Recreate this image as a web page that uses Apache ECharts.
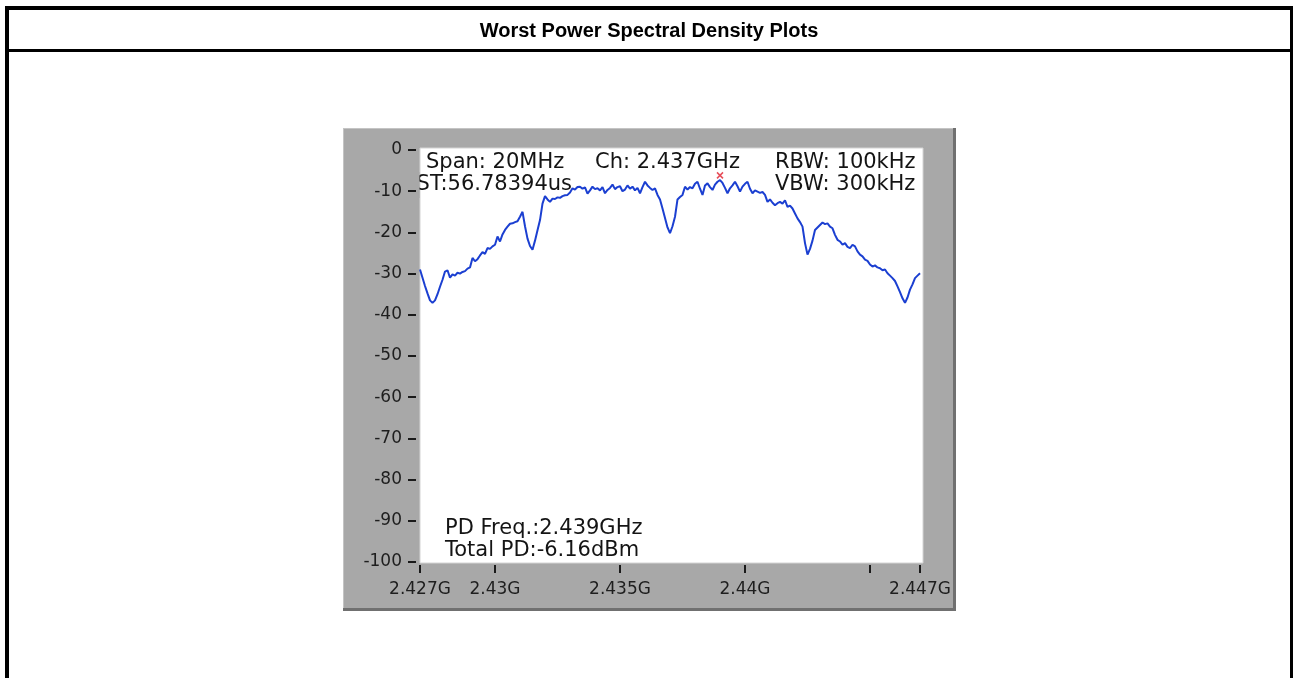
<!DOCTYPE html>
<html><head><meta charset="utf-8">
<script src="https://cdn.jsdelivr.net/npm/echarts@6/dist/echarts.min.js"></script>
<style>html,body{margin:0;padding:0;background:#fff;} #chart{width:1293px;height:678px;}</style>
</head><body><div id="chart"></div>
<script>
const titleText = 'Worst Power Spectral Density Plots';
// sweep definition: 2.427 GHz start, 0.1 MHz step (201 points over 20 MHz span)
const sweepStartGHz = 2.427;
const sweepStepGHz = 0.0001;
const psdDbm = [
-29.0, -31.0, -33.0, -34.8, -36.5, -37.1, -36.5, -35.0, -33.2, -31.5,
-29.5, -29.2, -31.0, -30.2, -30.5, -29.8, -30.0, -29.6, -29.4, -28.8,
-28.5, -26.2, -27.0, -26.5, -25.6, -24.8, -25.2, -23.8, -24.0, -23.4,
-23.0, -21.0, -22.2, -20.5, -19.4, -18.6, -17.9, -17.8, -17.5, -17.3,
-16.2, -15.0, -18.5, -21.5, -23.3, -24.2, -22.0, -19.5, -17.0, -13.0,
-11.2, -12.0, -12.6, -11.8, -11.9, -11.5, -11.6, -11.2, -11.0, -10.9,
-10.3, -9.3, -9.6, -9.0, -8.9, -9.4, -9.1, -10.6, -9.8, -8.9,
-9.5, -9.3, -9.8, -9.0, -10.5, -9.7, -9.2, -8.4, -9.5, -9.0,
-8.8, -10.0, -9.6, -8.6, -9.4, -8.9, -9.8, -9.2, -10.5, -9.0,
-7.7, -8.6, -9.2, -9.7, -9.3, -10.9, -12.0, -14.2, -16.5, -18.8,
-20.2, -18.5, -16.2, -12.0, -11.4, -10.9, -8.9, -9.6, -9.0, -9.3,
-8.2, -7.7, -9.4, -10.9, -8.6, -8.1, -9.0, -9.7, -8.4, -7.7,
-7.3, -8.0, -9.2, -10.5, -9.3, -8.6, -7.7, -8.8, -10.1, -8.9,
-8.2, -7.7, -9.4, -10.5, -9.8, -10.1, -10.4, -10.2, -10.9, -12.6,
-12.0, -12.8, -13.4, -12.9, -12.6, -13.0, -12.2, -13.8, -13.5, -14.2,
-15.4, -16.6, -17.5, -18.6, -22.6, -25.4, -24.0, -22.0, -19.4, -18.8,
-18.2, -17.6, -18.0, -17.8, -18.6, -19.0, -20.6, -21.8, -22.2, -23.0,
-22.6, -23.5, -23.8, -23.0, -23.4, -24.6, -25.4, -25.8, -26.6, -26.9,
-27.8, -28.3, -28.0, -28.5, -28.7, -29.2, -29.0, -29.9, -30.5, -31.1,
-31.8, -33.1, -34.5, -36.0, -37.1, -35.8, -33.9, -32.6, -31.1, -30.5, -29.9
];
const xTickValues = [2.427, 2.43, 2.435, 2.44, 2.445, 2.447];
const xLabelValues = [2.427, 2.43, 2.435, 2.44, 2.447];
const xLabelTexts = ['2.427G', '2.43G', '2.435G', '2.44G', '2.447G'];
const yTickLabels = ['0', '-10', '-20', '-30', '-40', '-50', '-60', '-70', '-80', '-90', '-100'];
const peakPoint = [2.439, -6.16];
const infoTopLeft = ['Span: 20MHz', 'ST:56.78394us'];
const infoTopMid = ['Ch: 2.437GHz'];
const infoTopRight = ['RBW: 100kHz', 'VBW: 300kHz'];
const infoBottom = ['PD Freq.:2.439GHz', 'Total PD:-6.16dBm'];

const seriesData = psdDbm.map((v, i) => [sweepStartGHz + i * sweepStepGHz, v]);

const panelGray = '#a8a8a8';
const txtFont = '21px "DejaVu Sans"';
const chart = echarts.init(document.getElementById('chart'), null, {renderer: 'canvas'});
chart.setOption({
  animation: false,
  backgroundColor: '#ffffff',
  grid: {left: 420, top: 150, width: 500, height: 412, containLabel: false, outerBoundsMode: 'none'},
  xAxis: {
    type: 'value', min: 2.427, max: 2.447, z: 10, position: 'bottom',
    axisLine: {show: false},
    splitLine: {show: false},
    axisTick: {show: false},
    axisLabel: {
      customValues: xLabelValues, margin: 19,
      color: '#1e1e1e', fontFamily: 'DejaVu Sans', fontSize: 17,
      formatter: function (v) {
        for (let i = 0; i < xLabelValues.length; i++) {
          if (Math.abs(xLabelValues[i] - v) < 1e-7) return xLabelTexts[i];
        }
        return '';
      }
    }
  },
  yAxis: {
    type: 'value', min: -100, max: 0, interval: 10, z: 10, offset: 4,
    axisLine: {show: false},
    splitLine: {show: false},
    axisTick: {show: true, length: 8, lineStyle: {color: '#1a1a1a', width: 2}},
    axisLabel: {
      margin: 14, color: '#1e1e1e', fontFamily: 'DejaVu Sans', fontSize: 17,
      formatter: function (v) { return yTickLabels[Math.round(-v / 10)]; }
    }
  },
  series: [
    {
      type: 'line', data: seriesData, showSymbol: false, z: 8, clip: true,
      lineStyle: {color: '#1b3fd1', width: 2}
    },
    {
      type: 'scatter', data: [peakPoint], z: 9,
      symbol: 'path://M0,0L10,10M10,0L0,10', symbolSize: 6,
      itemStyle: {color: 'none', borderColor: '#e02030', borderWidth: 1.5}
    },
    {
      type: 'custom', z: 10, silent: true, clip: false,
      data: xTickValues.map(v => [v, -100]),
      renderItem: function (params, api) {
        const p = api.coord([api.value(0), api.value(1)]);
        return {
          type: 'line',
          shape: {x1: p[0], y1: p[1] + 3, x2: p[0], y2: p[1] + 11},
          style: {stroke: '#1a1a1a', lineWidth: 2}
        };
      }
    }
  ],
  graphic: [
    {type: 'rect', z: 1, shape: {x: 5, y: 6, width: 1288, height: 4}, style: {fill: '#000'}},
    {type: 'rect', z: 1, shape: {x: 5, y: 6, width: 4, height: 672}, style: {fill: '#000'}},
    {type: 'rect', z: 1, shape: {x: 1290, y: 6, width: 3, height: 672}, style: {fill: '#000'}},
    {type: 'rect', z: 1, shape: {x: 5, y: 49, width: 1288, height: 3}, style: {fill: '#000'}},
    {type: 'text', z: 1, x: 649, y: 31, style: {text: titleText, font: 'bold 20px "Liberation Sans"', fill: '#000', textAlign: 'center', textVerticalAlign: 'middle'}},
    {type: 'rect', z: 1, shape: {x: 343, y: 128, width: 613, height: 483}, style: {fill: panelGray}},
    {type: 'rect', z: 1, shape: {x: 343, y: 128, width: 613, height: 1}, style: {fill: '#c4c4c4'}},
    {type: 'rect', z: 1, shape: {x: 343, y: 128, width: 1, height: 483}, style: {fill: '#c4c4c4'}},
    {type: 'rect', z: 1, shape: {x: 953, y: 128, width: 3, height: 483}, style: {fill: '#707070'}},
    {type: 'rect', z: 1, shape: {x: 343, y: 608, width: 613, height: 3}, style: {fill: '#707070'}},
    {type: 'rect', z: 2, shape: {x: 420, y: 148, width: 503, height: 415}, style: {fill: '#ffffff', stroke: '#d4d4d4', lineWidth: 1}},
    {type: 'text', z: 3, x: 426, y: 163, style: {text: infoTopLeft[0], font: txtFont, fill: '#141414', textAlign: 'left', textVerticalAlign: 'middle'}},
    {type: 'text', z: 3, x: 572, y: 185, style: {text: infoTopLeft[1], font: txtFont, fill: '#141414', textAlign: 'right', textVerticalAlign: 'middle'}},
    {type: 'text', z: 3, x: 595, y: 163, style: {text: infoTopMid[0], font: txtFont, fill: '#141414', textAlign: 'left', textVerticalAlign: 'middle'}},
    {type: 'text', z: 3, x: 775, y: 163, style: {text: infoTopRight[0], font: txtFont, fill: '#141414', textAlign: 'left', textVerticalAlign: 'middle'}},
    {type: 'text', z: 3, x: 775, y: 185, style: {text: infoTopRight[1], font: txtFont, fill: '#141414', textAlign: 'left', textVerticalAlign: 'middle'}},
    {type: 'text', z: 3, x: 445, y: 529, style: {text: infoBottom[0], font: txtFont, fill: '#141414', textAlign: 'left', textVerticalAlign: 'middle'}},
    {type: 'text', z: 3, x: 445, y: 551, style: {text: infoBottom[1], font: txtFont, fill: '#141414', textAlign: 'left', textVerticalAlign: 'middle'}},
    {type: 'rect', z: 4, shape: {x: 390, y: 172, width: 29.5, height: 26}, style: {fill: panelGray}}
  ]
});
</script>
</body></html>
